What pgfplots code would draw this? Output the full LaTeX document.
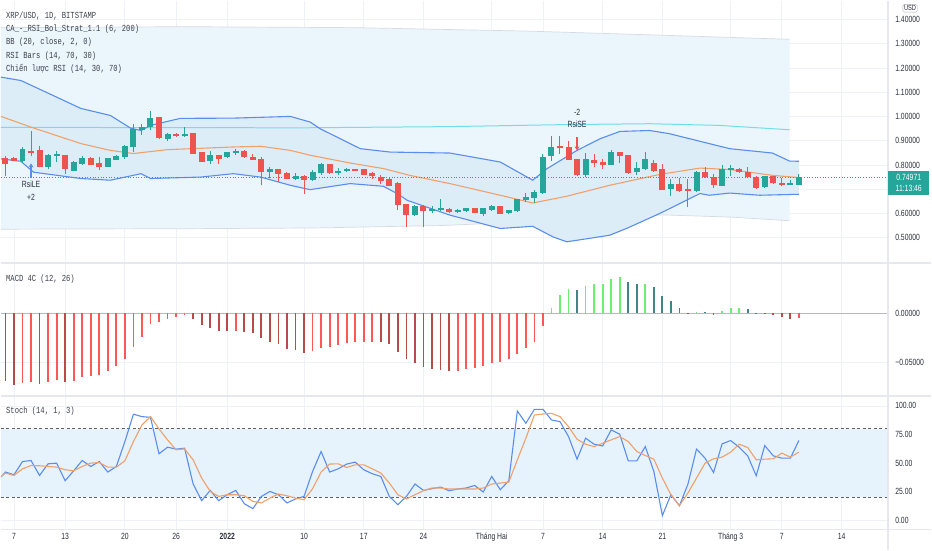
\documentclass[border=0pt]{standalone}
\usepackage{pgfplots}
\pgfplotsset{compat=1.18}
\usepackage{pgfplotstable}
\usetikzlibrary{arrows.meta}
\usepackage{fontspec}
\setmainfont{Liberation Sans}
\newfontfamily\tickfont{Liberation Sans}[FakeStretch=0.76]
\newfontfamily\legfont{Liberation Mono}[FakeStretch=0.77]

\definecolor{cgreen}{HTML}{26A69A}
\definecolor{cred}{HTML}{EF5350}
\definecolor{bbblue}{HTML}{5B8DEF}
\definecolor{bborange}{HTML}{F2A06A}
\definecolor{bandfill}{HTML}{EBF5FC}
\definecolor{bbfill}{HTML}{DCEDF8}
\definecolor{wline}{HTML}{D6DBE3}
\definecolor{gridc}{HTML}{EEF1F6}
\definecolor{sepc}{HTML}{E6E8EE}
\definecolor{tickc}{HTML}{2A2E39}
\definecolor{legc}{HTML}{3C3F4A}
\definecolor{cyanl}{HTML}{72DDEB}
\definecolor{macdG}{HTML}{6AF06E}
\definecolor{macdGd}{HTML}{428585}
\definecolor{macdR}{HTML}{FF5656}
\definecolor{macdRd}{HTML}{B84A4A}
\definecolor{stochband}{HTML}{E6F2FC}
\definecolor{stochK}{HTML}{5B8DEF}
\definecolor{stochD}{HTML}{F2A06A}

\pgfplotstableread{
d o h l c
1 0.818 0.874 0.809 0.864
4 0.791 0.846 0.782 0.840
5 0.840 0.856 0.812 0.843
7 0.778 0.816 0.775 0.812
8 0.805 0.835 0.800 0.828
11 0.794 0.830 0.792 0.828
12 0.823 0.840 0.820 0.837
13 0.833 0.882 0.825 0.878
14 0.874 0.970 0.853 0.947
15 0.947 0.970 0.925 0.956
16 0.956 1.021 0.942 0.993
18 0.908 0.932 0.897 0.925
20 0.919 0.956 0.916 0.926
23 0.819 0.856 0.805 0.840
25 0.833 0.855 0.830 0.851
26 0.851 0.864 0.840 0.857
30 0.774 0.790 0.745 0.781
33 0.744 0.767 0.737 0.753
35 0.739 0.781 0.735 0.771
36 0.768 0.808 0.760 0.802
38 0.770 0.787 0.757 0.772
39 0.777 0.789 0.772 0.782
47 0.593 0.635 0.590 0.630
49 0.613 0.630 0.600 0.617
50 0.616 0.661 0.612 0.620
52 0.608 0.618 0.600 0.613
53 0.610 0.623 0.606 0.620
55 0.600 0.624 0.588 0.620
56 0.616 0.634 0.612 0.630
58 0.604 0.616 0.596 0.613
59 0.610 0.660 0.606 0.657
60 0.657 0.683 0.646 0.665
61 0.665 0.695 0.643 0.686
62 0.685 0.845 0.680 0.833
63 0.840 0.918 0.815 0.871
67 0.760 0.850 0.750 0.823
70 0.801 0.862 0.798 0.853
73 0.771 0.812 0.758 0.785
74 0.785 0.853 0.780 0.822
77 0.702 0.740 0.671 0.720
80 0.695 0.775 0.690 0.771
83 0.716 0.800 0.712 0.781
84 0.781 0.801 0.756 0.785
88 0.709 0.756 0.705 0.753
91 0.720 0.738 0.718 0.726
92 0.720 0.762 0.718 0.750
}\greenC

\pgfplotstableread{
d o h l c
-1 0.828 0.835 0.753 0.805
0 0.828 0.832 0.815 0.818
2 0.855 0.938 0.835 0.850
3 0.859 0.878 0.791 0.795
6 0.840 0.842 0.761 0.785
9 0.828 0.833 0.800 0.802
10 0.805 0.833 0.778 0.791
17 0.996 0.998 0.905 0.911
19 0.926 0.930 0.915 0.919
21 0.929 0.931 0.845 0.847
22 0.853 0.855 0.812 0.815
24 0.840 0.842 0.805 0.826
27 0.857 0.860 0.830 0.833
28 0.833 0.844 0.820 0.822
29 0.822 0.833 0.716 0.771
31 0.781 0.784 0.730 0.764
32 0.767 0.770 0.740 0.744
34 0.754 0.757 0.682 0.739
37 0.801 0.805 0.764 0.767
40 0.782 0.785 0.775 0.777
41 0.781 0.784 0.758 0.761
42 0.767 0.770 0.740 0.754
43 0.750 0.760 0.722 0.734
44 0.739 0.752 0.713 0.716
45 0.723 0.730 0.613 0.638
46 0.638 0.640 0.544 0.593
48 0.630 0.633 0.544 0.613
51 0.617 0.622 0.600 0.609
54 0.620 0.622 0.600 0.604
57 0.630 0.632 0.598 0.600
64 0.878 0.918 0.847 0.871
65 0.871 0.897 0.820 0.823
66 0.823 0.826 0.755 0.760
68 0.819 0.845 0.790 0.811
69 0.811 0.823 0.785 0.802
71 0.853 0.855 0.810 0.837
72 0.840 0.842 0.764 0.767
75 0.808 0.822 0.772 0.775
76 0.781 0.802 0.695 0.698
78 0.720 0.748 0.690 0.693
79 0.698 0.741 0.627 0.695
81 0.771 0.793 0.745 0.750
82 0.750 0.764 0.705 0.720
85 0.782 0.786 0.768 0.771
86 0.771 0.792 0.745 0.750
87 0.750 0.753 0.700 0.707
89 0.753 0.756 0.722 0.726
90 0.726 0.748 0.713 0.720
}\redC

\pgfplotstableread{
d v
1 -0.0712
2 -0.0695
4 -0.0702
5 -0.0678
7 -0.0685
8 -0.0651
9 -0.0634
10 -0.0624
11 -0.0584
12 -0.0537
13 -0.0466
14 -0.0347
15 -0.0240
16 -0.0115
17 -0.0095
18 -0.0064
19 -0.0037
20 -0.0020
26 -0.0179
35 -0.0381
36 -0.0354
37 -0.0341
38 -0.0327
39 -0.0307
40 -0.0290
41 -0.0290
42 -0.0290
52 -0.0584
53 -0.0570
54 -0.0560
55 -0.0537
56 -0.0503
57 -0.0493
58 -0.0469
59 -0.0418
60 -0.0357
61 -0.0290
62 -0.0128
92 -0.0054
}\macdRt

\pgfplotstableread{
d v
-1 -0.0685
0 -0.0729
3 -0.0719
6 -0.0702
21 -0.0064
22 -0.0121
23 -0.0155
24 -0.0179
25 -0.0179
27 -0.0189
28 -0.0199
29 -0.0256
30 -0.0290
31 -0.0317
32 -0.0364
33 -0.0374
34 -0.0402
43 -0.0297
44 -0.0314
45 -0.0391
46 -0.0469
47 -0.0509
48 -0.0550
49 -0.0567
50 -0.0577
51 -0.0584
79 -0.0010
82 -0.0020
88 -0.0004
89 -0.0023
90 -0.0043
91 -0.0061
}\macdRdt

\pgfplotstableread{
d v
63 0.0047
64 0.0182
65 0.0240
67 0.0276
68 0.0293
69 0.0300
70 0.0344
71 0.0361
74 0.0293
80 0.0008
83 0.0017
84 0.0047
85 0.0054
}\macdGt

\pgfplotstableread{
d v
66 0.0238
72 0.0317
73 0.0290
75 0.0266
76 0.0175
77 0.0121
78 0.0047
81 0.0007
86 0.0040
87 0.0004
}\macdGdt

\pgfplotstableread{
d K D
-1.52 37.6 38.0
-1 42.0 41.1
0 39.6 39.0
1 51.2 44.8
2 52.1 47.7
3 39.0 47.5
4 49.2 46.9
5 49.8 46.3
6 34.4 44.0
7 43.1 43.1
8 52.1 46.9
9 46.9 49.8
10 51.2 50.3
11 42.0 46.3
12 46.9 46.3
13 68.7 51.8
14 92.7 68.7
15 90.6 83.3
16 90.0 90.6
17 58.0 79.8
18 63.8 70.2
19 62.1 61.5
20 62.9 62.3
21 31.5 52.7
22 16.9 36.7
23 25.9 25.0
24 16.9 20.6
25 22.1 22.1
26 25.9 22.1
27 14.2 21.2
28 9.9 16.3
29 20.6 14.9
30 25.0 19.2
31 22.1 22.7
32 14.9 21.2
33 18.4 19.2
34 20.6 17.7
35 42.5 27.4
36 60.0 42.0
37 42.0 49.0
38 44.8 49.2
39 49.0 46.0
40 50.7 48.3
41 44.0 48.3
42 40.5 44.8
43 38.1 41.1
44 20.6 32.3
45 13.4 22.1
46 20.6 18.4
47 31.5 22.1
48 25.9 25.6
49 27.4 28.0
50 28.8 28.0
51 25.6 27.1
52 27.1 27.1
53 28.0 27.1
54 30.2 27.1
55 24.5 28.0
56 38.1 31.5
57 26.5 32.3
58 34.4 33.2
59 95.5 52.7
60 84.8 71.7
61 97.0 92.0
62 97.0 92.9
63 87.7 93.5
64 86.2 90.6
65 73.1 81.8
66 53.3 70.8
67 71.7 66.4
68 66.4 64.3
69 64.9 67.3
70 78.9 70.2
71 75.2 73.1
72 51.8 68.7
73 51.8 60.0
74 64.3 56.5
75 42.5 53.3
76 3.8 36.7
77 22.1 22.1
78 12.5 12.5
79 31.5 23.6
80 62.1 36.7
81 54.2 49.8
82 41.6 53.6
83 66.7 55.1
84 69.6 59.4
85 63.8 66.4
86 56.2 63.5
87 38.7 52.7
88 65.2 53.3
89 56.2 53.6
90 54.2 58.6
91 54.2 55.1
92 69.6 59.4
}\stochT

\begin{document}
\begin{tikzpicture}
\pgfplotsset{
  panel/.style={scale only axis, width=888pt, xmin=-1.52, xmax=102.34,
    axis line style={draw=none}, major tick length=0pt,
    grid=major, major grid style={draw=gridc, line width=0.8pt},
    xtick={0,6,13,19,25,34,41,48,56,62,69,76,84,90,97},
    scaled y ticks=false, scaled x ticks=false,
    yticklabel pos=right,
    yticklabel style={anchor=west, inner sep=0pt, xshift=8pt},
    tick label style={font=\tickfont\fontsize{9}{10}\selectfont, text=tickc},
  },
}

% ---------------- price panel ----------------
\begin{axis}[panel, at={(0pt,550pt)}, anchor=north west, height=262pt,
  ymin=0.399, ymax=1.477, xticklabels={,,,,,,,,,,,,,,},
  ytick={0.5,0.6,0.7,0.8,0.9,1.0,1.1,1.2,1.3,1.4},
  yticklabels={0.50000,0.60000,0.70000,0.80000,0.90000,1.00000,1.10000,1.20000,1.30000,1.40000}]
% wide strategy band
\addplot[fill=bandfill, draw=none] coordinates {(-1.52,1.366) (20,1.370) (40,1.366) (60,1.352) (75,1.336) (90.9,1.318) (90.9,0.570) (84,0.585) (76,0.594) (68,0.590) (60,0.565) (50,0.550) (35,0.540) (20,0.537) (-1.52,0.535)} -- cycle;
\addplot[draw=wline, line width=0.7pt] coordinates {(-1.52,1.366) (20,1.370) (40,1.366) (60,1.352) (75,1.336) (90.9,1.318)};
\addplot[draw=wline, line width=0.7pt] coordinates {(-1.52,0.535) (20,0.537) (35,0.540) (50,0.550) (60,0.565) (68,0.590) (76,0.594) (84,0.585) (90.9,0.570)};
% Bollinger fill
\addplot[fill=bbfill, draw=none] coordinates {(-1.52,1.162) (0.82,1.148) (7.84,1.033) (11.3,1.004) (13.7,0.951) (14.9,0.942) (16.0,0.963) (19.5,0.992) (25.7,0.993) (32.4,1.000) (34.7,0.977) (35.9,0.949) (40.6,0.867) (44.1,0.853) (51.1,0.849) (57.0,0.812) (60.8,0.737) (62.5,0.785) (66.0,0.860) (68.7,0.908) (71.0,0.938) (74.5,0.942) (76.8,0.929) (83.9,0.867) (88.9,0.849) (90.9,0.816) (92,0.815)
 (92,0.679) (87.4,0.675) (83.9,0.684) (81.5,0.675) (80.4,0.682) (75.7,0.600) (71.8,0.538) (69.8,0.510) (64.8,0.483) (63.2,0.503) (60.8,0.547) (57.0,0.538) (51.1,0.593) (46.1,0.654) (44.9,0.682) (43.3,0.712) (39.4,0.723) (34.7,0.698) (32.4,0.716) (28.9,0.750) (25.7,0.764) (21.9,0.750) (16.0,0.744) (14.9,0.764) (11.3,0.737) (7.84,0.744) (2.3,0.770) (0.8,0.815) (-1.52,0.825)} -- cycle;
% cyan level
\addplot[cyanl, line width=1pt] coordinates {(-1.52,0.955) (33.6,0.953) (51.1,0.958) (64,0.966) (74.5,0.970) (82.7,0.963) (90.9,0.945)};
% BB lines
\addplot[bbblue, line width=1.1pt] coordinates {(-1.52,1.162) (0.82,1.148) (7.84,1.033) (11.3,1.004) (13.7,0.951) (14.9,0.942) (16.0,0.963) (19.5,0.992) (25.7,0.993) (32.4,1.000) (34.7,0.977) (35.9,0.949) (40.6,0.867) (44.1,0.853) (51.1,0.849) (57.0,0.812) (60.8,0.737) (62.5,0.785) (66.0,0.860) (68.7,0.908) (71.0,0.938) (74.5,0.942) (76.8,0.929) (83.9,0.867) (88.9,0.849) (90.9,0.816) (92,0.815)};
\addplot[bbblue, line width=1.1pt] coordinates {(-1.52,0.825) (0.8,0.815) (2.3,0.770) (7.84,0.744) (11.3,0.737) (14.9,0.764) (16.0,0.744) (21.9,0.750) (25.7,0.764) (28.9,0.750) (32.4,0.716) (34.7,0.698) (39.4,0.723) (43.3,0.712) (44.9,0.682) (46.1,0.654) (51.1,0.593) (57.0,0.538) (60.8,0.547) (63.2,0.503) (64.8,0.483) (69.8,0.510) (71.8,0.538) (75.7,0.600) (80.4,0.682) (81.5,0.675) (83.9,0.684) (87.4,0.675) (92,0.679)};
\addplot[bborange, line width=1.1pt] coordinates {(-1.52,1.000) (1.99,0.956) (7.84,0.888) (11.3,0.860) (14.0,0.847) (18.0,0.863) (25.7,0.874) (28.9,0.877) (32.4,0.860) (34.7,0.840) (39.4,0.808) (43.3,0.785) (46.4,0.757) (51.1,0.723) (57.0,0.675) (60.8,0.643) (64.8,0.671) (69.8,0.716) (75.7,0.761) (80.4,0.787) (83.9,0.781) (88.9,0.757) (92,0.748)};
% current price line
\addplot[cgreen, dotted, line width=0.7pt] coordinates {(-1.52,0.7497) (102.34,0.7497)};
% candles: wicks and bodies as vertical segments
\addplot[cgreen, line width=1pt, quiver={u=0, v=\thisrow{h}-\thisrow{l}}] table[x=d, y=l] {\greenC};
\addplot[cred, line width=1pt, quiver={u=0, v=\thisrow{h}-\thisrow{l}}] table[x=d, y=l] {\redC};
\addplot[cgreen, line width=6pt, quiver={u=0, v=\thisrow{c}-\thisrow{o}+0.003}] table[x=d, y expr=\thisrow{o}-0.0015] {\greenC};
\addplot[cred, line width=6pt, quiver={u=0, v=\thisrow{o}-\thisrow{c}+0.003}] table[x=d, y expr=\thisrow{c}-0.0015] {\redC};
% signals
\addplot[bbblue, line width=1.3pt, -{Stealth[length=4pt,width=5pt]}] coordinates {(2,0.745) (2,0.806)};
\addplot[cred, line width=1.3pt, -{Stealth[length=4pt,width=5pt]}] coordinates {(66,0.914) (66,0.860)};
\node[font=\tickfont\fontsize{9}{10}\selectfont, text=tickc] at (axis cs:2,0.721) {RsiLE};
\node[font=\tickfont\fontsize{9}{10}\selectfont, text=tickc] at (axis cs:2,0.665) {+2};
\node[font=\tickfont\fontsize{9}{10}\selectfont, text=tickc] at (axis cs:66,1.016) {-2};
\node[font=\tickfont\fontsize{9}{10}\selectfont, text=tickc] at (axis cs:66,0.967) {RsiSE};
\end{axis}

% ---------------- MACD panel ----------------
\begin{axis}[panel, at={(0pt,286pt)}, anchor=north west, height=131pt,
  ymin=-0.0830, ymax=0.0496, xticklabels={,,,,,,,,,,,,,,},
  ytick={-0.05,0}, yticklabels={−0.05000,0.00000}]
\addplot[gray!55, line width=0.8pt] coordinates {(-1.52,0) (102.34,0)};
\addplot[ycomb, macdR, line width=1.8pt, mark=none] table[x=d, y=v] {\macdRt};
\addplot[ycomb, macdRd, line width=1.8pt, mark=none] table[x=d, y=v] {\macdRdt};
\addplot[ycomb, macdG, line width=1.8pt, mark=none] table[x=d, y=v] {\macdGt};
\addplot[ycomb, macdGd, line width=1.8pt, mark=none] table[x=d, y=v] {\macdGdt};
\end{axis}

% ---------------- Stoch panel ----------------
\begin{axis}[panel, at={(0pt,153pt)}, anchor=north west, height=133pt,
  ymin=-8.5, ymax=107.9,
  ytick={0,25,50,75,100}, yticklabels={0.00,25.00,50.00,75.00,100.00},
  xticklabels={7,13,20,26,\textbf{2022},10,17,24,Tháng Hai,7,14,21,Tháng 3,7,14},
  xticklabel style={anchor=base, yshift=-10pt}]
\addplot[fill=stochband, draw=none] coordinates {(-1.52,20) (-1.52,80) (102.34,80) (102.34,20)} -- cycle;
\addplot[gray!75!black, line width=0.8pt, dash pattern=on 3pt off 2.5pt] coordinates {(-1.52,80) (102.34,80)};
\addplot[gray!75!black, line width=0.8pt, dash pattern=on 3pt off 2.5pt] coordinates {(-1.52,20) (102.34,20)};
\addplot[stochK, line width=1.1pt] table[x=d, y=K] {\stochT};
\addplot[stochD, line width=1.1pt] table[x=d, y=D] {\stochT};
\end{axis}

% separators
\draw[sepc, line width=2pt] (0pt,287pt) -- (932pt,287pt);
\draw[sepc, line width=2pt] (0pt,154pt) -- (932pt,154pt);
\draw[sepc, line width=1.5pt] (0pt,20pt) -- (932pt,20pt);
\draw[sepc, line width=1.5pt] (889pt,0pt) -- (889pt,550pt);

% legends
\begin{scope}[every node/.style={anchor=west, inner sep=0pt, text=legc, font=\legfont\fontsize{9.3}{10}\selectfont}]
\node at (5pt,535pt) {XRP/USD, 1D, BITSTAMP};
\node at (5pt,521.7pt) {CA\_-\_RSI\_Bol\_Strat\_1.1 (6, 200)};
\node at (5pt,508.3pt) {BB (20, close, 2, 0)};
\node at (5pt,495pt) {RSI Bars (14, 70, 30)};
\node at (5pt,481.7pt) {Chiến lược RSI (14, 30, 70)};
\node at (5pt,270.7pt) {MACD 4C (12, 26)};
\node at (5pt,139pt) {Stoch (14, 1, 3)};
\end{scope}

% price label and USD tag
\node[fill=cgreen, text=white, inner sep=0pt, minimum width=41pt, minimum height=24pt, align=center, anchor=north west,
  font=\tickfont\fontsize{9}{11}\selectfont] at (889pt,380pt) {0.74971\\11:13:46};
\node[draw=gray!60, fill=white, rounded corners=1.5pt, inner sep=1.2pt, text=tickc,
  font=\tickfont\fontsize{7.5}{8}\selectfont] at (911pt,542.5pt) {USD};
\path (0pt,0pt) (932pt,550pt);
\end{tikzpicture}
\end{document}
